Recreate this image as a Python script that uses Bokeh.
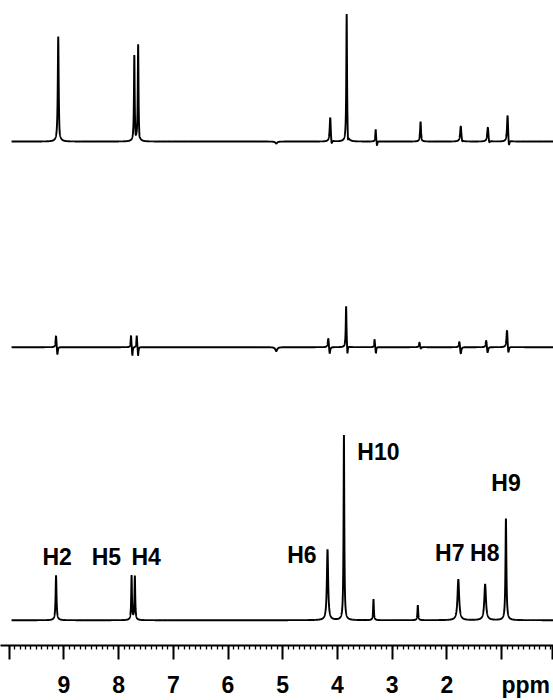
import numpy as np
from bokeh.plotting import figure
from bokeh.models import (Range1d, FixedTicker, LinearAxis, ColumnDataSource,
                          CustomLabelingPolicy)
from bokeh.core.properties import value
from bokeh.embed import file_html
from bokeh.resources import INLINE

# ---------------- data ----------------
# chemical shifts (ppm), peak heights / dips (arbitrary units) and line widths (ppm)
top_ppm = [9.09, 7.70, 7.63, 5.13, 4.12, 3.82, 3.29, 2.47, 1.735, 1.24, 0.88]
top_up = [106, 86, 97, 0, 25, 129, 12.5, 20, 16, 15, 27.5]
top_down = [4, 4, 4, 2, 6, 10, 5, 1, 3, 4, 8]
top_width = [0.010, 0.008, 0.008, 0.02, 0.012, 0.008, 0.008, 0.010, 0.014, 0.014, 0.012]

mid_ppm = [9.13, 7.76, 7.655, 5.13, 4.155, 3.83, 3.31, 2.49, 1.76, 1.27, 0.89]
mid_up = [12.4, 12.4, 12.4, 0, 10, 42, 8.3, 5, 6.7, 7.7, 18.3]
mid_down = [8.8, 9.5, 9.5, 4, 8, 10, 6.7, 2, 7.7, 6.7, 8.3]
mid_width = [0.010, 0.008, 0.008, 0.02, 0.012, 0.008, 0.008, 0.010, 0.012, 0.012, 0.012]

bot_ppm = [9.13, 7.75, 7.69, 4.17, 3.87, 3.33, 2.52, 1.78, 1.29, 0.91]
bot_up = [45, 44.5, 44, 71, 186, 21, 15, 41, 36, 102]
bot_width = [0.010, 0.008, 0.008, 0.014, 0.008, 0.008, 0.008, 0.018, 0.018, 0.010]

peak_labels = ["H2", "H5", "H4", "H6", "H10", "H7", "H8", "H9"]
tick_values = [10, 9, 8, 7, 6, 5, 4, 3, 2, 1, 0.08]
label_ticks = [9, 8, 7, 6, 5, 4, 3, 2, 0.56]
tick_labels = ["9", "8", "7", "6", "5", "4", "3", "2", "ppm"]

# ---------------- layout ----------------
X_START, X_END = 10.157, 0.053
FRAME_H = 648
base_top, base_mid, base_bot = 506.3, 299.7, 25.4
label_pos = {  # (ppm, baseline y) for the assignment labels
    "H2": (9.121, 88.7), "H5": (8.223, 88.7), "H4": (7.497, 88.7),
    "H6": (4.649, 91.3), "H10": (3.252, 194.7), "H7": (1.949, 93.0),
    "H8": (1.309, 93.0), "H9": (0.920, 163.0),
}

x = np.arange(9.955, X_END - 0.001, -0.001)


def spectrum(ppm, up, down, width, base, shift=0.012):
    y = np.full_like(x, base, dtype=float)
    for i, p0 in enumerate(ppm):
        w = width[i]
        y += up[i] / (1.0 + ((x - p0 - shift) / w) ** 2)
        if down is not None:
            y -= down[i] / (1.0 + ((x - p0 + shift) / w) ** 2)
    return y


p = figure(width=553, height=700, x_range=Range1d(X_START, X_END),
           y_range=Range1d(0, FRAME_H), output_backend="svg",
           toolbar_location=None, y_axis_location=None, x_axis_location=None,
           min_border=0, outline_line_color=None,
           background_fill_color="white", border_fill_color="white")
p.grid.visible = False

for (pp, up, dn, wd, base) in [
    (top_ppm, top_up, top_down, top_width, base_top),
    (mid_ppm, mid_up, mid_down, mid_width, base_mid),
    (bot_ppm, bot_up, None, bot_width, base_bot),
]:
    p.line(x, spectrum(pp, up, dn, wd, base), line_color="black", line_width=1.9)

src = ColumnDataSource(dict(
    x=[label_pos[t][0] for t in peak_labels],
    y=[label_pos[t][1] for t in peak_labels],
    text=peak_labels))
p.text(x="x", y="y", text="text", source=src, text_align="center",
       text_baseline="alphabetic", text_font=value("Liberation Sans"),
       text_font_size="23px", text_font_style="bold", text_color="black")

# axis with the tick marks (no labels drawn)
ax = LinearAxis(ticker=FixedTicker(ticks=tick_values,
                                   minor_ticks=[round(0.1 * k, 1) for k in range(1, 101)]))
ax.axis_line_width = 2.2
ax.axis_line_color = "black"
ax.major_tick_in = 0
ax.major_tick_out = 14
ax.major_tick_line_width = 2
ax.minor_tick_in = 0
ax.minor_tick_out = 4
ax.minor_tick_line_width = 1.3
ax.major_label_standoff = 0
ax.major_label_text_font_size = "0px"
ax.major_label_policy = CustomLabelingPolicy(code="return []")
p.add_layout(ax, "below")

# axis carrying the tick labels and the unit
ax2 = LinearAxis(ticker=FixedTicker(ticks=label_ticks, minor_ticks=[]))
ax2.major_label_overrides = {t: l for t, l in zip(label_ticks, tick_labels)}
ax2.axis_line_color = None
ax2.major_tick_line_color = None
ax2.minor_tick_line_color = None
ax2.major_tick_in = 0
ax2.major_tick_out = 0
ax2.minor_tick_in = 0
ax2.minor_tick_out = 0
ax2.major_label_standoff = 12
ax2.major_label_text_font = "Liberation Sans"
ax2.major_label_text_font_size = "23px"
ax2.major_label_text_font_style = "bold"
ax2.major_label_text_color = "black"
p.add_layout(ax2, "below")

open("out.html", "w").write(file_html(p, INLINE))
